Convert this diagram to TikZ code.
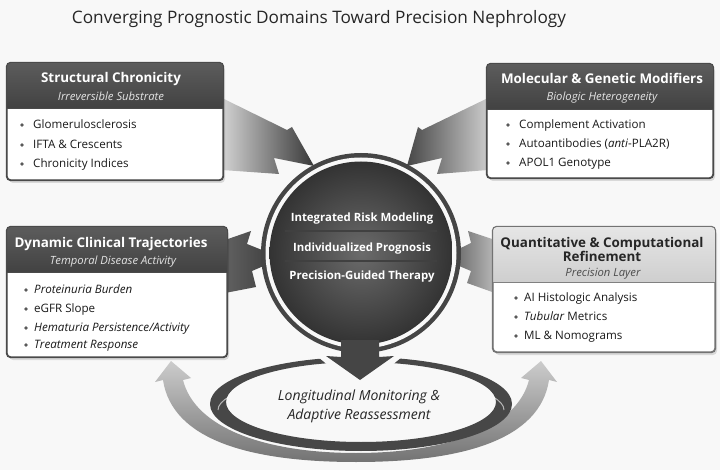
\documentclass[tikz,border=0pt]{standalone}
\usepackage{fontspec}
\setmainfont{Open Sans}
\usetikzlibrary{calc}
\definecolor{bgc}{HTML}{F8F8F8}
\definecolor{hdtop}{HTML}{5C5C5C}
\definecolor{hdbot}{HTML}{424242}
\definecolor{bordc}{HTML}{4A4A4A}
\definecolor{ringc}{HTML}{454545}
\tikzset{
  ttl/.style={font=\fontsize{17.2}{20}\selectfont, text=black!85, inner sep=0, text height=12.2pt, text depth=0pt},
  hdrtitle/.style={font=\bfseries\fontsize{13.4}{15}\selectfont, text=white, inner sep=0, text height=9.6pt, text depth=0pt},
  hdrsub/.style={font=\itshape\fontsize{11.3}{13}\selectfont, text=gray!22, inner sep=0, text height=8pt, text depth=0pt},
  item/.style={font=\fontsize{11.6}{13}\selectfont, text=black!90, anchor=west, inner sep=0, text height=8.3pt, text depth=0pt},
  dot/.style={circle, fill=black!65, inner sep=0, minimum size=3.6pt},
  ctext/.style={font=\bfseries\fontsize{11.4}{13}\selectfont, text=white, inner sep=0, text height=8.1pt, text depth=0pt},
  etext/.style={font=\itshape\fontsize{14}{16}\selectfont, text=black!85, inner sep=0, text height=10pt, text depth=0pt},
  panel/.style={draw=bordc, line width=1.1pt, rounded corners=4pt, fill=white, inner sep=0},
  pshadow/.style={fill=black, opacity=0.12, rounded corners=4pt},
}
\begin{document}
\begin{tikzpicture}[x=1pt,y=-1pt]
\useasboundingbox (0,0) rectangle (720,470);
\fill[bgc] (0,0) rectangle (720,470);

% title
\node[ttl] (title) at (319,17) {Converging Prognostic Domains Toward Precision Nephrology};
\shade[left color=bgc, middle color=black!65, right color=bgc] (60,39.2) rectangle (600,41.2);

% ---------- converging block arrows ----------
\shade[left color=gray!35, right color=black!78] (222,98) -- (287,130) -- (292,127) -- (314,166) -- (274,158) -- (279,174) -- (222,170) -- cycle;
\shade[left color=black!72, right color=gray!40] (488,98) -- (422,130) -- (418,127) -- (407,166) -- (442,158) -- (437,174) -- (488,170) -- cycle;
\shade[left color=black!62, right color=black!78] (225,240) -- (251,231) -- (247,244) -- (282,258) -- (252,271) -- (256,287) -- (225,293) -- cycle;
\shade[left color=black!70, right color=gray!55] (495,240) -- (468,231) -- (471,243) -- (440,258) -- (471,271) -- (467,283) -- (495,293) -- cycle;

% ---------- lower feedback arcs ----------
\shade[top color=gray!40, bottom color=black!55]
  (163,380) .. controls (172,440) and (250,462) .. (356,462)
  -- (356,453) .. controls (265,453) and (195,428) .. (183,380)
  -- (191,378) -- (171,361) -- (155,382) -- cycle;
\shade[top color=gray!40, bottom color=black!55]
  (549,380) .. controls (540,440) and (462,462) .. (356,462)
  -- (356,453) .. controls (447,453) and (517,428) .. (529,380)
  -- (521,378) -- (541,361) -- (557,382) -- cycle;

% ellipse ring
\shade[even odd rule, left color=black!72, middle color=gray!55, right color=black!72]
  (361,404) ellipse [x radius=151, y radius=47]
  (361,402) ellipse [x radius=135, y radius=40];
\draw[white, opacity=0.6, line width=1pt] (218,410) arc[start angle=180, end angle=360, x radius=143, y radius=34];
\fill[bgc] (361,402) ellipse [x radius=134, y radius=39];
\node[etext] (loop1) at (359,395) {Longitudinal Monitoring \&};
\node[etext] (loop2) at (359,414) {Adaptive Reassessment};

% gap around down arrow
\fill[bgc] (317,340) -- (403,340) -- (403,356) -- (360,392) -- (317,356) -- cycle;

% ---------- central circle ----------
\coordinate (cc) at (361,253);
\fill[ringc] (cc) circle (100);
\fill[bgc] (cc) circle (95.5);
\shade[inner color=black!58, outer color=black!80] (cc) circle (91.5);
\shade[left color=black!75, middle color=gray!55, right color=black!75] (285,230.4) rectangle (437,231.6);
\shade[left color=black!75, middle color=gray!55, right color=black!75] (285,260.4) rectangle (437,261.6);
\node[ctext] (c1) at (362,217) {Integrated Risk Modeling};
\node[ctext] (c2) at (362,247) {Individualized Prognosis};
\node[ctext] (c3) at (362,275) {Precision-Guided Therapy};

% down arrow
\fill[ringc] (341,340) -- (379,340) -- (379,357) -- (394,356) -- (360,380) -- (326,356) -- (341,357) -- cycle;

% ---------- panels ----------
% top-left
\fill[pshadow] (9,66) rectangle (225,183);
\node[panel, minimum width=216pt, minimum height=117pt] (tl) at (115,121.5) {};
\begin{scope}
  \clip[rounded corners=4pt] (tl.north west) rectangle (tl.south east);
  \shade[top color=hdtop, bottom color=hdbot] (7,63) rectangle (223,108);
\end{scope}
\draw[bordc, line width=1.1pt, rounded corners=4pt] (tl.north west) rectangle (tl.south east);
\draw[bordc, line width=0.8pt] (7,108) -- (223,108);
\node[hdrtitle] (tlt) at (111,78) {Structural Chronicity};
\node[hdrsub] (tls) at (111,97) {Irreversible Substrate};
\node[dot] (tld1) at (22,125) {}; \node[item] (tli1) at (33,124) {Glomerulosclerosis};
\node[dot] (tld2) at (22,145) {}; \node[item] (tli2) at (33,144) {IFTA \& Crescents};
\node[dot] (tld3) at (22,164) {}; \node[item] (tli3) at (33,163) {Chronicity Indices};

% top-right
\fill[pshadow] (489,67) rectangle (715,181);
\node[panel, minimum width=226pt, minimum height=114pt] (tr) at (600,121) {};
\begin{scope}
  \clip[rounded corners=4pt] (tr.north west) rectangle (tr.south east);
  \shade[top color=hdtop, bottom color=hdbot] (487,64) rectangle (713,109);
\end{scope}
\draw[bordc, line width=1.1pt, rounded corners=4pt] (tr.north west) rectangle (tr.south east);
\draw[bordc, line width=0.8pt] (487,109) -- (713,109);
\node[hdrtitle] (trt) at (602,79) {Molecular \& Genetic Modifiers};
\node[hdrsub] (trs) at (602,97) {Biologic Heterogeneity};
\node[dot] (trd1) at (508,125) {}; \node[item] (tri1) at (519,124) {Complement Activation};
\node[dot] (trd2) at (508,144) {}; \node[item] (tri2) at (519,143) {Autoantibodies (\textit{anti}-PLA2R)};
\node[dot] (trd3) at (508,163) {}; \node[item] (tri3) at (519,162) {APOL1 Genotype};

% bottom-left
\fill[pshadow] (9,230) rectangle (229,360);
\node[panel, minimum width=220pt, minimum height=130pt] (bl) at (117,292) {};
\begin{scope}
  \clip[rounded corners=4pt] (bl.north west) rectangle (bl.south east);
  \shade[top color=hdtop, bottom color=hdbot] (7,227) rectangle (227,272);
\end{scope}
\draw[bordc, line width=1.1pt, rounded corners=4pt] (bl.north west) rectangle (bl.south east);
\draw[bordc, line width=0.8pt] (7,272) -- (227,272);
\node[hdrtitle] (blt) at (111,243) {Dynamic Clinical Trajectories};
\node[hdrsub] (bls) at (113,261) {Temporal Disease Activity};
\node[dot] (bld1) at (26,290) {}; \node[item] (bli1) at (34,289) {\textit{Proteinuria Burden}};
\node[dot] (bld2) at (26,309) {}; \node[item] (bli2) at (34,308) {eGFR Slope};
\node[dot] (bld3) at (26,328) {}; \node[item] (bli3) at (34,327) {\textit{Hematuria Persistence/Activity}};
\node[dot] (bld4) at (26,345) {}; \node[item] (bli4) at (34,344) {\textit{Treatment Response}};

% bottom-right
\fill[pshadow] (495,230) rectangle (717,355);
\node[panel, draw=black!55, minimum width=222pt, minimum height=125pt] (br) at (604,289.5) {};
\begin{scope}
  \clip[rounded corners=4pt] (br.north west) rectangle (br.south east);
  \shade[top color=gray!20, bottom color=gray!38] (493,227) rectangle (715,282);
\end{scope}
\draw[black!55, line width=1.1pt, rounded corners=4pt] (br.north west) rectangle (br.south east);
\draw[black!50, line width=0.8pt] (493,282) -- (715,282);
\node[hdrtitle, text=black!85] (brt1) at (602,243) {Quantitative \& Computational};
\node[hdrtitle, text=black!85] (brt2) at (602,257) {Refinement};
\node[hdrsub, text=black!70] (brs) at (603,273) {Precision Layer};
\node[dot] (brd1) at (516,298) {}; \node[item] (bri1) at (524,297) {AI Histologic Analysis};
\node[dot] (brd2) at (516,317) {}; \node[item] (bri2) at (524,316) {\textit{Tubular} Metrics};
\node[dot] (brd3) at (516,336) {}; \node[item] (bri3) at (524,335) {ML \& Nomograms};
\end{tikzpicture}
\end{document}
